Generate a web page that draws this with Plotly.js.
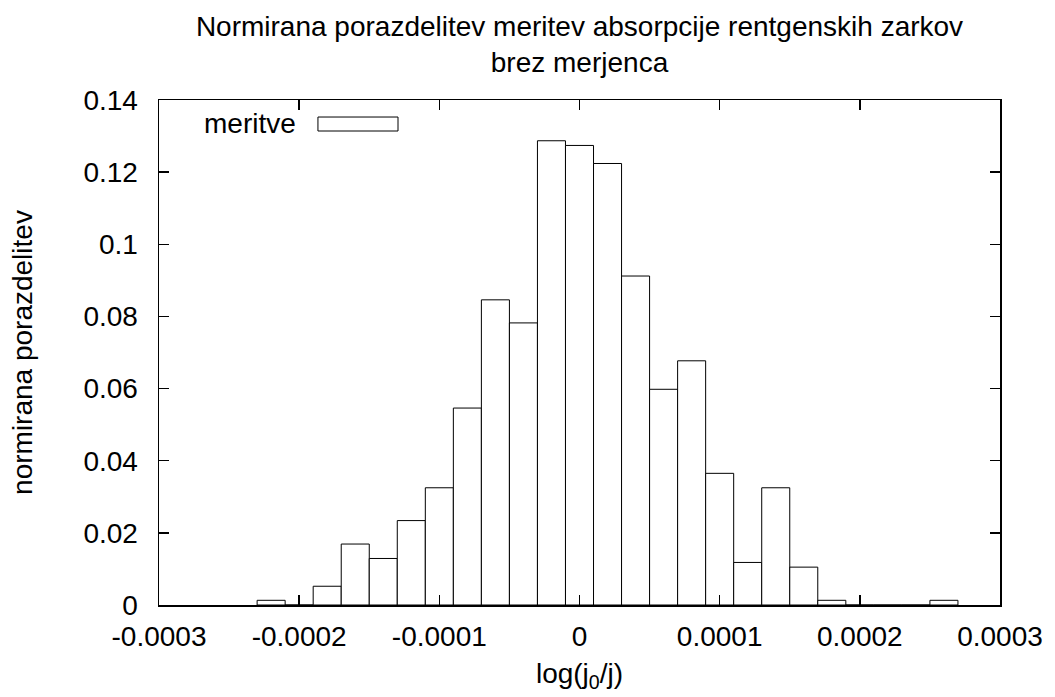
<!DOCTYPE html>
<html>
<head>
<meta charset="utf-8">
<script src="https://cdn.plot.ly/plotly-3.0.1.min.js"></script>
<style>html,body{margin:0;padding:0;background:#fff;}#chart{width:1055px;height:697px;}</style>
</head>
<body>
<div id="chart"></div>
<script>
// bin centres of the histogram
const binCenters = [-0.00022, -0.0002, -0.00018, -0.00016, -0.00014, -0.00012, -0.0001, -0.00008, -0.00006, -0.00004, -0.00002, 0, 0.00002, 0.00004, 0.00006, 0.00008, 0.0001, 0.00012, 0.00014, 0.00016, 0.00018, 0.0002, 0.00022, 0.00024, 0.00026];
// normalised frequency per bin
const meritve = [0.0013, 0, 0.0052, 0.0169, 0.0129, 0.0234, 0.0325, 0.0546, 0.0846, 0.0782, 0.1287, 0.1274, 0.1224, 0.0912, 0.0598, 0.0677, 0.0365, 0.0118, 0.0325, 0.0105, 0.0013, 0, 0, 0, 0.0013];
const binWidth = 0.00002;

const xTickVals = [-0.0003, -0.0002, -0.0001, 0, 0.0001, 0.0002, 0.0003];
const xTickText = ["-0.0003", "-0.0002", "-0.0001", "0", "0.0001", "0.0002", "0.0003"];
const yTickVals = [0, 0.02, 0.04, 0.06, 0.08, 0.1, 0.12, 0.14];
const yTickText = ["0", "0.02", "0.04", "0.06", "0.08", "0.1", "0.12", "0.14"];

const FONT = "Liberation Sans, Arial, Helvetica, sans-serif";

const trace = {
  type: "bar",
  name: "meritve",
  x: binCenters,
  y: meritve,
  width: binCenters.map(() => binWidth),
  marker: {color: "#ffffff", line: {color: "#000000", width: 1}},
  showlegend: false,
  hoverinfo: "x+y"
};

const layout = {
  width: 1055, height: 697,
  margin: {l: 159, r: 55, t: 100, b: 92, pad: 0},
  paper_bgcolor: "#ffffff", plot_bgcolor: "#ffffff",
  font: {family: FONT, size: 28, color: "#000"},
  title: {
    text: "Normirana porazdelitev meritev absorpcije rentgenskih zarkov<br>brez merjenca",
    font: {family: FONT, size: 28, color: "#000"},
    x: 0.5, xref: "paper", xanchor: "center",
    y: 1, yref: "paper", yanchor: "bottom",
    pad: {b: 64}
  },
  bargap: 0,
  xaxis: {
    range: [-0.0003, 0.0003],
    tickvals: xTickVals, ticktext: xTickText,
    ticks: "inside", ticklen: 10, tickwidth: 1.5, tickcolor: "#000",
    showline: true, linecolor: "#000", linewidth: 1.5, mirror: "allticks",
    showgrid: false, zeroline: false,
    ticklabelstandoff: 6,
    tickfont: {family: FONT, size: 28, color: "#000"},
    title: {text: "log(j<sub>0</sub>/j)", font: {family: FONT, size: 28, color: "#000"}, standoff: 12}
  },
  yaxis: {
    range: [0, 0.14],
    tickvals: yTickVals, ticktext: yTickText,
    ticks: "inside", ticklen: 10, tickwidth: 1.5, tickcolor: "#000",
    showline: true, linecolor: "#000", linewidth: 1.5, mirror: "allticks",
    showgrid: false, zeroline: false,
    ticklabelstandoff: 14,
    tickfont: {family: FONT, size: 28, color: "#000"},
    title: {text: "normirana porazdelitev", font: {family: FONT, size: 28, color: "#000"}, standoff: 42}
  },
  shapes: [{
    type: "rect", xref: "paper", yref: "paper",
    x0: 0.189, x1: 0.2842, y0: 0.9386, y1: 0.9663,
    line: {color: "#000", width: 1}, fillcolor: "#ffffff"
  }],
  annotations: [{
    text: "meritve", xref: "paper", yref: "paper",
    x: 0.1653, y: 0.9525, xanchor: "right", yanchor: "middle",
    showarrow: false, font: {family: FONT, size: 28, color: "#000"}
  }]
};

Plotly.newPlot("chart", [trace], layout, {displayModeBar: false, staticPlot: true});
</script>
</body>
</html>
